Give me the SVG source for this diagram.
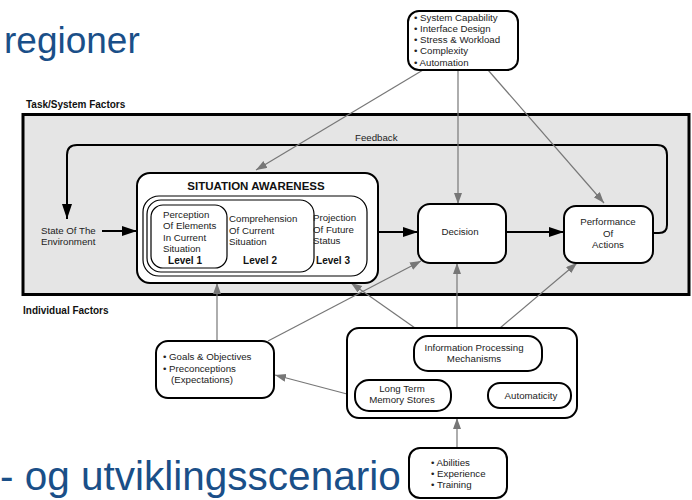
<svg xmlns="http://www.w3.org/2000/svg" width="692" height="500" viewBox="0 0 692 500">
<style>
.t{font-family:"Liberation Sans",Arial,sans-serif;font-size:9.7px;fill:#222}
.b{font-family:"Liberation Sans",Arial,sans-serif;font-weight:bold;fill:#111}
.box{fill:#fff;stroke:#000;stroke-width:2}
.g{stroke:#777;stroke-width:1.2;fill:none}
.k{stroke:#000;stroke-width:2;fill:none}
.big{font-family:"Liberation Sans",Arial,sans-serif;fill:#1a4f88}
</style>
<defs>
<marker id="ga" markerUnits="userSpaceOnUse" markerWidth="12" markerHeight="10" refX="11" refY="4" orient="auto"><path d="M0,0 L11,4 L0,8 Z" fill="#777"/></marker>
<marker id="ka" markerUnits="userSpaceOnUse" markerWidth="16" markerHeight="12" refX="15" refY="5" orient="auto"><path d="M0,0 L15,5 L0,10 Z" fill="#000"/></marker>
</defs>
<rect width="692" height="500" fill="#fff"/>
<text class="big" x="4" y="53" font-size="37">regioner</text>
<text class="b" x="26" y="108" font-size="10">Task/System Factors</text>
<rect x="23" y="114.5" width="666" height="180" fill="#e5e5e5" stroke="#000" stroke-width="3"/>
<text class="b" x="23" y="314" font-size="10">Individual Factors</text>
<text class="big" x="0" y="490" font-size="40.5">- og utviklingsscenario</text>

<g id="connectors">
<path class="k" d="M653,233 H659 Q667,233 667,225 V155 Q667,145 657,145 H77 Q67,145 67,155 V219" marker-end="url(#ka)"/>
<text class="t" x="355" y="141">Feedback</text>
<line class="k" x1="102" y1="231" x2="137" y2="231" marker-end="url(#ka)"/>
<line class="k" x1="377" y1="232" x2="418" y2="232" marker-end="url(#ka)"/>
<line class="k" x1="506" y1="232" x2="564" y2="232" marker-end="url(#ka)"/>
<line class="g" x1="423" y1="70" x2="256" y2="170" marker-end="url(#ga)"/>
<line class="g" x1="458" y1="70" x2="458" y2="204" marker-end="url(#ga)"/>
<line class="g" x1="488" y1="70" x2="604" y2="203" marker-end="url(#ga)"/>
<line class="g" x1="217" y1="341" x2="217" y2="283" marker-end="url(#ga)"/>
<line class="g" x1="268" y1="341" x2="421" y2="261" marker-end="url(#ga)"/>
<line class="g" x1="415" y1="328" x2="351" y2="283" marker-end="url(#ga)"/>
<line class="g" x1="457" y1="328" x2="457" y2="263" marker-end="url(#ga)"/>
<line class="g" x1="500" y1="328" x2="577" y2="263" marker-end="url(#ga)"/>
<line class="g" x1="347" y1="394" x2="275" y2="375" marker-end="url(#ga)"/>
<line class="g" x1="457" y1="448" x2="457" y2="418" marker-end="url(#ga)"/>
</g>

<g id="task-factors">
<rect class="box" x="408" y="11" width="110" height="59" rx="11"/>
<text class="t" x="414" y="20.5">• System Capability</text>
<text class="t" x="414" y="31.8">• Interface Design</text>
<text class="t" x="414" y="43.1">• Stress &amp; Workload</text>
<text class="t" x="414" y="54.4">• Complexity</text>
<text class="t" x="414" y="65.7">• Automation</text>
</g>

<g id="state">
<text class="t" x="41" y="234">State Of The</text>
<text class="t" x="41" y="245">Environment</text>
</g>

<g id="situation-awareness">
<rect class="box" x="137" y="173" width="241" height="110" rx="13"/>
<text class="b" x="256" y="190" font-size="11.5" text-anchor="middle">SITUATION AWARENESS</text>
<rect x="143" y="196" width="224" height="80" rx="16" fill="none" stroke="#000" stroke-width="1.2"/>
<rect x="147" y="200" width="167" height="72" rx="14" fill="none" stroke="#000" stroke-width="1.2"/>
<rect x="151" y="205" width="76" height="63" rx="12" fill="none" stroke="#000" stroke-width="1.2"/>
<text class="t" x="163" y="217.5">Perception</text>
<text class="t" x="163" y="229">Of Elements</text>
<text class="t" x="163" y="240.5">In Current</text>
<text class="t" x="163" y="252">Situation</text>
<text class="b" x="185" y="264" font-size="10" text-anchor="middle">Level 1</text>
<text class="t" x="229" y="222">Comprehension</text>
<text class="t" x="229" y="233.5">Of Current</text>
<text class="t" x="229" y="245">Situation</text>
<text class="b" x="260" y="264" font-size="10" text-anchor="middle">Level 2</text>
<text class="t" x="313" y="221">Projection</text>
<text class="t" x="313" y="232.5">Of Future</text>
<text class="t" x="313" y="244">Status</text>
<text class="b" x="333" y="264" font-size="10" text-anchor="middle">Level 3</text>
</g>

<g id="decision">
<rect class="box" x="418" y="204" width="88" height="59" rx="12"/>
<text class="t" x="460" y="234.5" text-anchor="middle">Decision</text>
</g>

<g id="performance">
<rect class="box" x="564" y="206" width="89" height="57" rx="12"/>
<text class="t" x="608" y="225" text-anchor="middle">Performance</text>
<text class="t" x="608" y="236.5" text-anchor="middle">Of</text>
<text class="t" x="608" y="248" text-anchor="middle">Actions</text>
</g>

<g id="goals">
<rect class="box" x="156" y="341" width="118" height="57" rx="12"/>
<text class="t" x="163" y="360">• Goals &amp; Objectives</text>
<text class="t" x="163" y="371.5">• Preconceptions</text>
<text class="t" x="171" y="383">(Expectations)</text>
</g>

<g id="individual">
<rect class="box" x="347" y="328" width="230" height="90" rx="12"/>
<rect class="box" x="414" y="336" width="128" height="35" rx="14"/>
<text class="t" x="474" y="351" text-anchor="middle">Information Processing</text>
<text class="t" x="474" y="361.5" text-anchor="middle">Mechanisms</text>
<rect class="box" x="355" y="380" width="96" height="31" rx="14"/>
<text class="t" x="402" y="392" text-anchor="middle">Long Term</text>
<text class="t" x="402" y="402.5" text-anchor="middle">Memory Stores</text>
<rect class="box" x="488" y="383" width="83" height="25" rx="12"/>
<text class="t" x="531" y="398.5" text-anchor="middle">Automaticity</text>
</g>

<g id="abilities">
<rect x="409" y="448" width="98" height="50" rx="11" fill="none" stroke="#000" stroke-width="2"/>
<text class="t" x="431" y="466">• Abilities</text>
<text class="t" x="431" y="477">• Experience</text>
<text class="t" x="431" y="488">• Training</text>
</g>
</svg>
